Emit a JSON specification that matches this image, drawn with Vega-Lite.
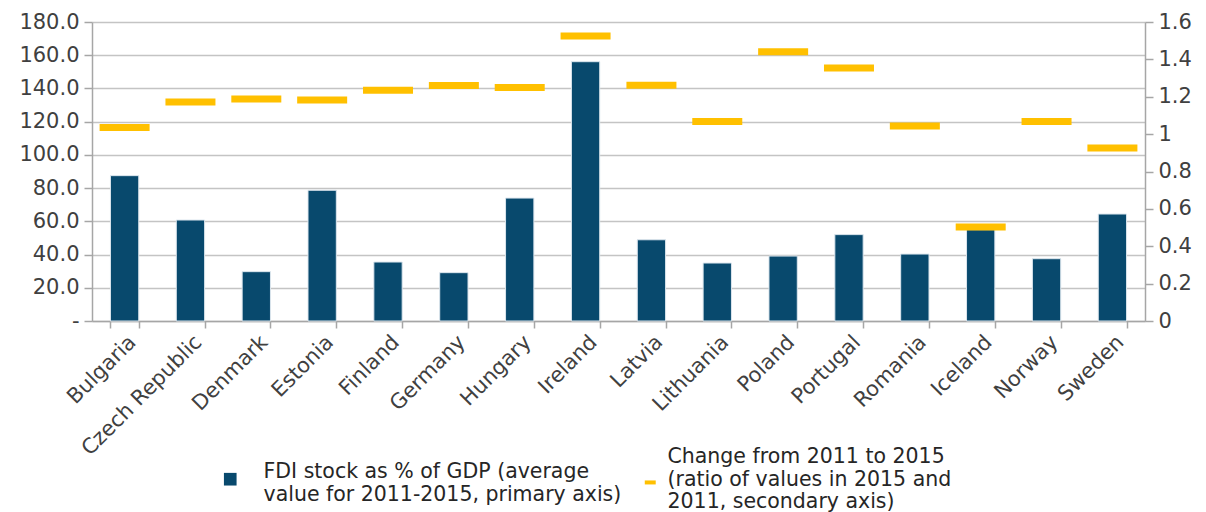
{
  "$schema": "https://vega.github.io/schema/vega-lite/v6.json",
  "autosize": {"type": "none"},
  "padding": {"left": 92, "top": 22, "right": 61, "bottom": 191},
  "width": 1053,
  "height": 299,
  "background": "white",
  "config": {
    "font": "DejaVu Sans",
    "view": {"stroke": null},
    "axis": {"labelFont": "DejaVu Sans", "labelColor": "#404040", "domainColor": "#a6a6a6", "tickColor": "#a6a6a6", "gridColor": "#c4c4c4", "domainWidth": 1.5, "tickWidth": 1.5, "gridWidth": 1.5}
  },
  "data": {
    "values": [
      {"country": "Bulgaria", "fdi": 87.5, "change": 1.035},
      {"country": "Czech Republic", "fdi": 60.8, "change": 1.172},
      {"country": "Denmark", "fdi": 29.7, "change": 1.188},
      {"country": "Estonia", "fdi": 78.7, "change": 1.182},
      {"country": "Finland", "fdi": 35.5, "change": 1.235},
      {"country": "Germany", "fdi": 29.1, "change": 1.26},
      {"country": "Hungary", "fdi": 74.0, "change": 1.25},
      {"country": "Ireland", "fdi": 156.1, "change": 1.525},
      {"country": "Latvia", "fdi": 48.9, "change": 1.261},
      {"country": "Lithuania", "fdi": 34.9, "change": 1.068},
      {"country": "Poland", "fdi": 39.1, "change": 1.441},
      {"country": "Portugal", "fdi": 52.0, "change": 1.354},
      {"country": "Romania", "fdi": 40.3, "change": 1.043},
      {"country": "Iceland", "fdi": 55.0, "change": 0.503},
      {"country": "Norway", "fdi": 37.5, "change": 1.068},
      {"country": "Sweden", "fdi": 64.4, "change": 0.926}
    ]
  },
  "encoding": {
    "x": {
      "field": "country",
      "type": "nominal",
      "sort": null,
      "scale": {"paddingInner": 0.57, "paddingOuter": 0.28},
      "axis": {
        "title": null,
        "labelAngle": -45,
        "labelAlign": "right",
        "labelBaseline": "top",
        "labelFontSize": 21,
        "labelPadding": 3,
        "tickBand": "extent",
        "tickSize": 7,
        "labelOverlap": false
      }
    }
  },
  "layer": [
    {
      "mark": {"type": "bar", "stroke": "#dce6ee", "strokeWidth": 1},
      "encoding": {
        "y": {
          "field": "fdi",
          "type": "quantitative",
          "scale": {"domain": [0, 180], "nice": false},
          "axis": {
            "title": null,
            "values": [0, 20, 40, 60, 80, 100, 120, 140, 160, 180],
            "labelExpr": "datum.value == 0 ? '-' : format(datum.value, '.1f')",
            "labelFontSize": 21,
            "tickSize": 8,
            "labelPadding": 5,
            "grid": true
          }
        },
        "color": {
          "datum": "FDI stock as % of GDP (average|value for 2011-2015, primary axis)",
          "scale": {"range": ["#08496d"]},
          "legend": {
            "title": null,
            "orient": "none",
            "legendX": 128,
            "legendY": 440,
            "padding": 0,
            "symbolType": "M-1,0.1H1V2.1H-1Z",
            "symbolSize": 160,
            "symbolStrokeWidth": 0,
            "labelFontSize": 20.5,
            "labelColor": "#262626",
            "labelOffset": 23,
            "labelLimit": 600,
            "labelExpr": "split(datum.label, '|')"
          }
        }
      }
    },
    {
      "mark": {"type": "tick", "thickness": 7, "size": 50, "opacity": 1},
      "encoding": {
        "y": {
          "field": "change",
          "type": "quantitative",
          "scale": {"domain": [0, 1.6], "nice": false},
          "axis": {
            "title": null,
            "orient": "right",
            "values": [0, 0.2, 0.4, 0.6, 0.8, 1, 1.2, 1.4, 1.6],
            "labelExpr": "format(datum.value, '~g')",
            "labelFontSize": 21,
            "tickSize": 8,
            "labelPadding": 5,
            "grid": false
          }
        },
        "color": {
          "datum": "Change from 2011 to 2015|(ratio of values in 2015 and|2011, secondary axis)",
          "scale": {"range": ["#ffc000"]},
          "legend": {
            "title": null,
            "orient": "none",
            "legendX": 548,
            "legendY": 425,
            "padding": 0,
            "symbolType": "M-1,4.6H1",
            "symbolSize": 120,
            "symbolStrokeWidth": 4,
            "symbolStrokeColor": "#ffc000",
            "symbolOpacity": 1,
            "labelFontSize": 20.5,
            "labelColor": "#262626",
            "labelOffset": 7,
            "labelLimit": 600,
            "labelExpr": "split(datum.label, '|')"
          }
        }
      }
    }
  ],
  "resolve": {"scale": {"y": "independent", "color": "independent"}, "legend": {"color": "independent"}}
}
